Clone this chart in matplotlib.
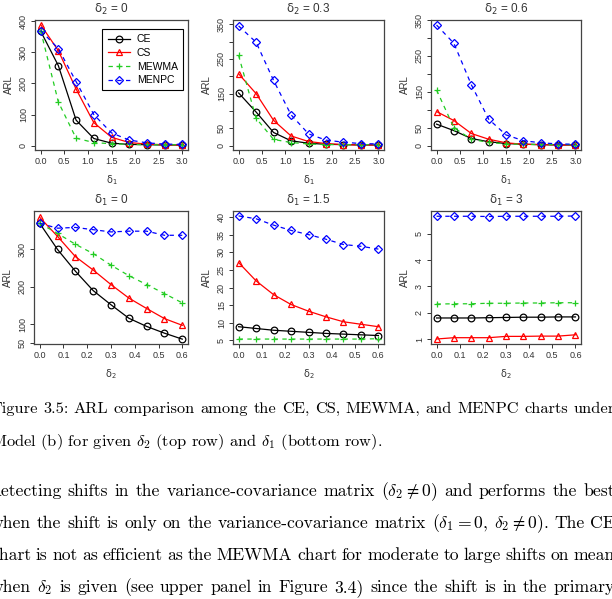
import re
import matplotlib.pyplot as plt

plt.rcParams['font.family'] = ['Liberation Sans', 'DejaVu Sans']
plt.rcParams['mathtext.fontset'] = 'dejavusans'

# shift sizes on the x axis
delta1 = [0.0, 0.375, 0.75, 1.125, 1.5, 1.875, 2.25, 2.625, 3.0]
delta2 = [0.0, 0.075, 0.15, 0.225, 0.3, 0.375, 0.45, 0.525, 0.6]

# top row: given delta2 (0, 0.3, 0.6), ARL vs delta1
ce_d2_0 = [368, 257, 82, 23, 8, 4, 3, 2, 2]
cs_d2_0 = [389, 305, 182, 74, 27, 10, 5, 3, 2]
mewma_d2_0 = [370, 140, 24, 10, 6, 4, 3, 3, 3]
menpc_d2_0 = [370, 312, 206, 100, 41, 18, 9, 5, 4]

ce_d2_03 = [152, 97, 38, 14, 7, 4, 3, 2, 2]
cs_d2_03 = [207, 150, 73, 28, 12, 6, 3, 2, 2]
mewma_d2_03 = [260, 79, 18, 9, 5, 3, 3, 3, 3]
menpc_d2_03 = [345, 298, 188, 89, 34, 16, 10, 6, 5]

ce_d2_06 = [60, 42, 20, 11, 6, 4, 3, 2, 2]
cs_d2_06 = [95, 70, 34, 18, 8, 4, 3, 2, 2]
mewma_d2_06 = [155, 50, 18, 9, 5, 4, 3, 3, 3]
menpc_d2_06 = [336, 285, 170, 74, 30, 14, 8, 5, 4]

# bottom row: given delta1 (0, 1.5, 3), ARL vs delta2
ce_d1_0 = [370, 300, 242, 190, 152, 116, 94, 76, 60]
cs_d1_0 = [386, 335, 281, 245, 206, 170, 142, 115, 97]
mewma_d1_0 = [370, 343, 314, 289, 258, 230, 206, 182, 157]
menpc_d1_0 = [370, 357, 359, 353, 347, 349, 349, 338, 338]

ce_d1_15 = [8.9, 8.4, 7.9, 7.6, 7.3, 7.0, 6.8, 6.6, 6.4]
cs_d1_15 = [27.1, 21.9, 18.0, 15.2, 13.3, 11.7, 10.3, 9.6, 8.9]
mewma_d1_15 = [5.4, 5.4, 5.4, 5.4, 5.4, 5.4, 5.4, 5.4, 5.5]
menpc_d1_15 = [40.3, 39.5, 37.7, 36.2, 35.0, 33.7, 32.2, 31.7, 30.9]

ce_d1_3 = [1.80, 1.80, 1.80, 1.81, 1.82, 1.83, 1.83, 1.84, 1.84]
cs_d1_3 = [1.00, 1.05, 1.05, 1.05, 1.10, 1.10, 1.11, 1.11, 1.16]
mewma_d1_3 = [2.33, 2.34, 2.34, 2.36, 2.36, 2.37, 2.37, 2.38, 2.38]
menpc_d1_3 = [5.67, 5.67, 5.67, 5.66, 5.67, 5.67, 5.67, 5.67, 5.68]

W, H = 612, 599
fig = plt.figure(figsize=(W / 100, H / 100), dpi=100)


def box(x0, y0, x1, y1):
    return [x0 / W, 1 - y1 / H, (x1 - x0) / W, (y1 - y0) / H]


styles = [
    dict(color='black', marker='o', ls='-', label='CE'),
    dict(color='#ff0000', marker='^', ls='-', label='CS'),
    dict(color='#22cc22', marker='+', ls=(0, (3.5, 3.5)), label='MEWMA'),
    dict(color='#0000ff', marker='D', ls=(0, (3.5, 3.5)), label='MENPC'),
]


def panel(rect, x, series, title, xlab, xlim, xticks, ylim, yticks, ylabels):
    ax = fig.add_axes(rect)
    for y, st in zip(series, styles):
        ms = 3.8 if st['marker'] == 'D' else 4.8
        ax.plot(x, y, lw=0.9, ms=ms, mew=0.9, mfc='none', **st)
    ax.set_xlim(xlim)
    ax.set_ylim(ylim)
    ax.set_xticks(xticks)
    ax.set_xticklabels(['%.1f' % t for t in xticks], fontsize=6.5, color='#333333')
    ax.set_yticks(yticks)
    ax.set_yticklabels(ylabels, fontsize=6.5, rotation=90, va='center', color='#333333')
    ax.tick_params(length=3, width=0.7, pad=2, color='#333333')
    for s in ax.spines.values():
        s.set_linewidth(0.9)
        s.set_color('#444444')
    ax.set_title(title, fontsize=8.5, pad=5, color='#333333')
    ax.set_xlabel(xlab, fontsize=7, labelpad=5, color='#333333')
    ax.set_ylabel('ARL', fontsize=7, labelpad=4, color='#333333')
    return ax


top_xticks = [0.0, 0.5, 1.0, 1.5, 2.0, 2.5, 3.0]
bot_xticks = [0.0, 0.1, 0.2, 0.3, 0.4, 0.5, 0.6]
lab1 = r'$\mathrm{\delta_1}$'
lab2 = r'$\mathrm{\delta_2}$'

ax1 = panel(box(35, 20, 188, 150), delta1,
            [ce_d2_0, cs_d2_0, mewma_d2_0, menpc_d2_0],
            r'$\mathrm{\delta_2}$ = 0', lab1, (-0.12, 3.12), top_xticks,
            (-14, 404), [0, 100, 200, 300, 400], ['0', '100', '200', '300', '400'])
leg = ax1.legend(loc='upper right', bbox_to_anchor=(0.967, 0.93), fontsize=7.5,
                 fancybox=False, edgecolor='black', framealpha=1,
                 handlelength=2.2, handletextpad=0.6, borderpad=0.5,
                 labelspacing=0.35, borderaxespad=0)
leg.get_frame().set_linewidth(0.8)

ax2 = panel(box(233, 20, 384, 150), delta1,
            [ce_d2_03, cs_d2_03, mewma_d2_03, menpc_d2_03],
            r'$\mathrm{\delta_2}$ = 0.3', lab1, (-0.12, 3.12), top_xticks,
            (-12.5, 362), [0, 50, 100, 150, 200, 250, 300, 350],
            ['0', '50', '', '150', '', '250', '', '350'])

ax3 = panel(box(431, 20, 581, 150), delta1,
            [ce_d2_06, cs_d2_06, mewma_d2_06, menpc_d2_06],
            r'$\mathrm{\delta_2}$ = 0.6', lab1, (-0.12, 3.12), top_xticks,
            (-12, 350), [0, 50, 100, 150, 200, 250, 300, 350],
            ['0', '50', '', '150', '', '250', '', '350'])

ax4 = panel(box(34, 211, 188, 344), delta2,
            [ce_d1_0, cs_d1_0, mewma_d1_0, menpc_d1_0],
            r'$\mathrm{\delta_1}$ = 0', lab2, (-0.024, 0.624), bot_xticks,
            (47, 403), [50, 100, 200, 300], ['50', '100', '200', '300'])

ax5 = panel(box(233, 211, 384, 344), delta2,
            [ce_d1_15, cs_d1_15, mewma_d1_15, menpc_d1_15],
            r'$\mathrm{\delta_1}$ = 1.5', lab2, (-0.024, 0.624), bot_xticks,
            (4.0, 41.7), [5, 10, 15, 20, 25, 30, 35, 40],
            ['5', '10', '15', '20', '25', '30', '35', '40'])

ax6 = panel(box(431, 211, 581, 344), delta2,
            [ce_d1_3, cs_d1_3, mewma_d1_3, menpc_d1_3],
            r'$\mathrm{\delta_1}$ = 3', lab2, (-0.024, 0.624), bot_xticks,
            (0.81, 5.87), [1, 2, 3, 4, 5], ['1', '2', '3', '4', '5'])

# caption (smaller) and running text of the page, justified like the LaTeX page
lines = [
    (413, 11.8, True, r'Figure 3.5: ARL comparison among the CE, CS, MEWMA, and MENPC charts under'),
    (446, 11.8, False, r'Model (b) for given $\delta_2$ (top row) and $\delta_1$ (bottom row).'),
    (496, 12.7, True, r'detecting shifts in the variance-covariance matrix ($\delta_2 \neq 0$) and performs the best'),
    (528, 12.7, True, r'when the shift is only on the variance-covariance matrix ($\delta_1 = 0$, $\delta_2 \neq 0$). The CE'),
    (560, 12.7, True, r'chart is not as efficient as the MEWMA chart for moderate to large shifts on mean'),
    (592, 12.7, True, r'when $\delta_2$ is given (see upper panel in Figure 3.4) since the shift is in the primary'),
]
left, right = -9, 615
renderer = fig.canvas.get_renderer()
for y, fsize, justify, s in lines:
    yf = 1 - y / H
    if not justify:
        fig.text(left / W, yf, s, fontsize=fsize, family='cmr10',
                 math_fontfamily='cm', va='baseline', ha='left')
        continue
    # split on spaces outside of $...$
    words = re.findall(r'(?:\$[^$]*\$|[^\s$])+', s)
    texts = [fig.text(0, yf, w, fontsize=fsize, family='cmr10',
                      math_fontfamily='cm', va='baseline', ha='left') for w in words]
    widths = [t.get_window_extent(renderer).width for t in texts]
    gap = (right - left - sum(widths)) / (len(words) - 1)
    x = left
    for t, w in zip(texts, widths):
        t.set_x(x / W)
        x += w + gap

fig.savefig('out.png', dpi=100)
